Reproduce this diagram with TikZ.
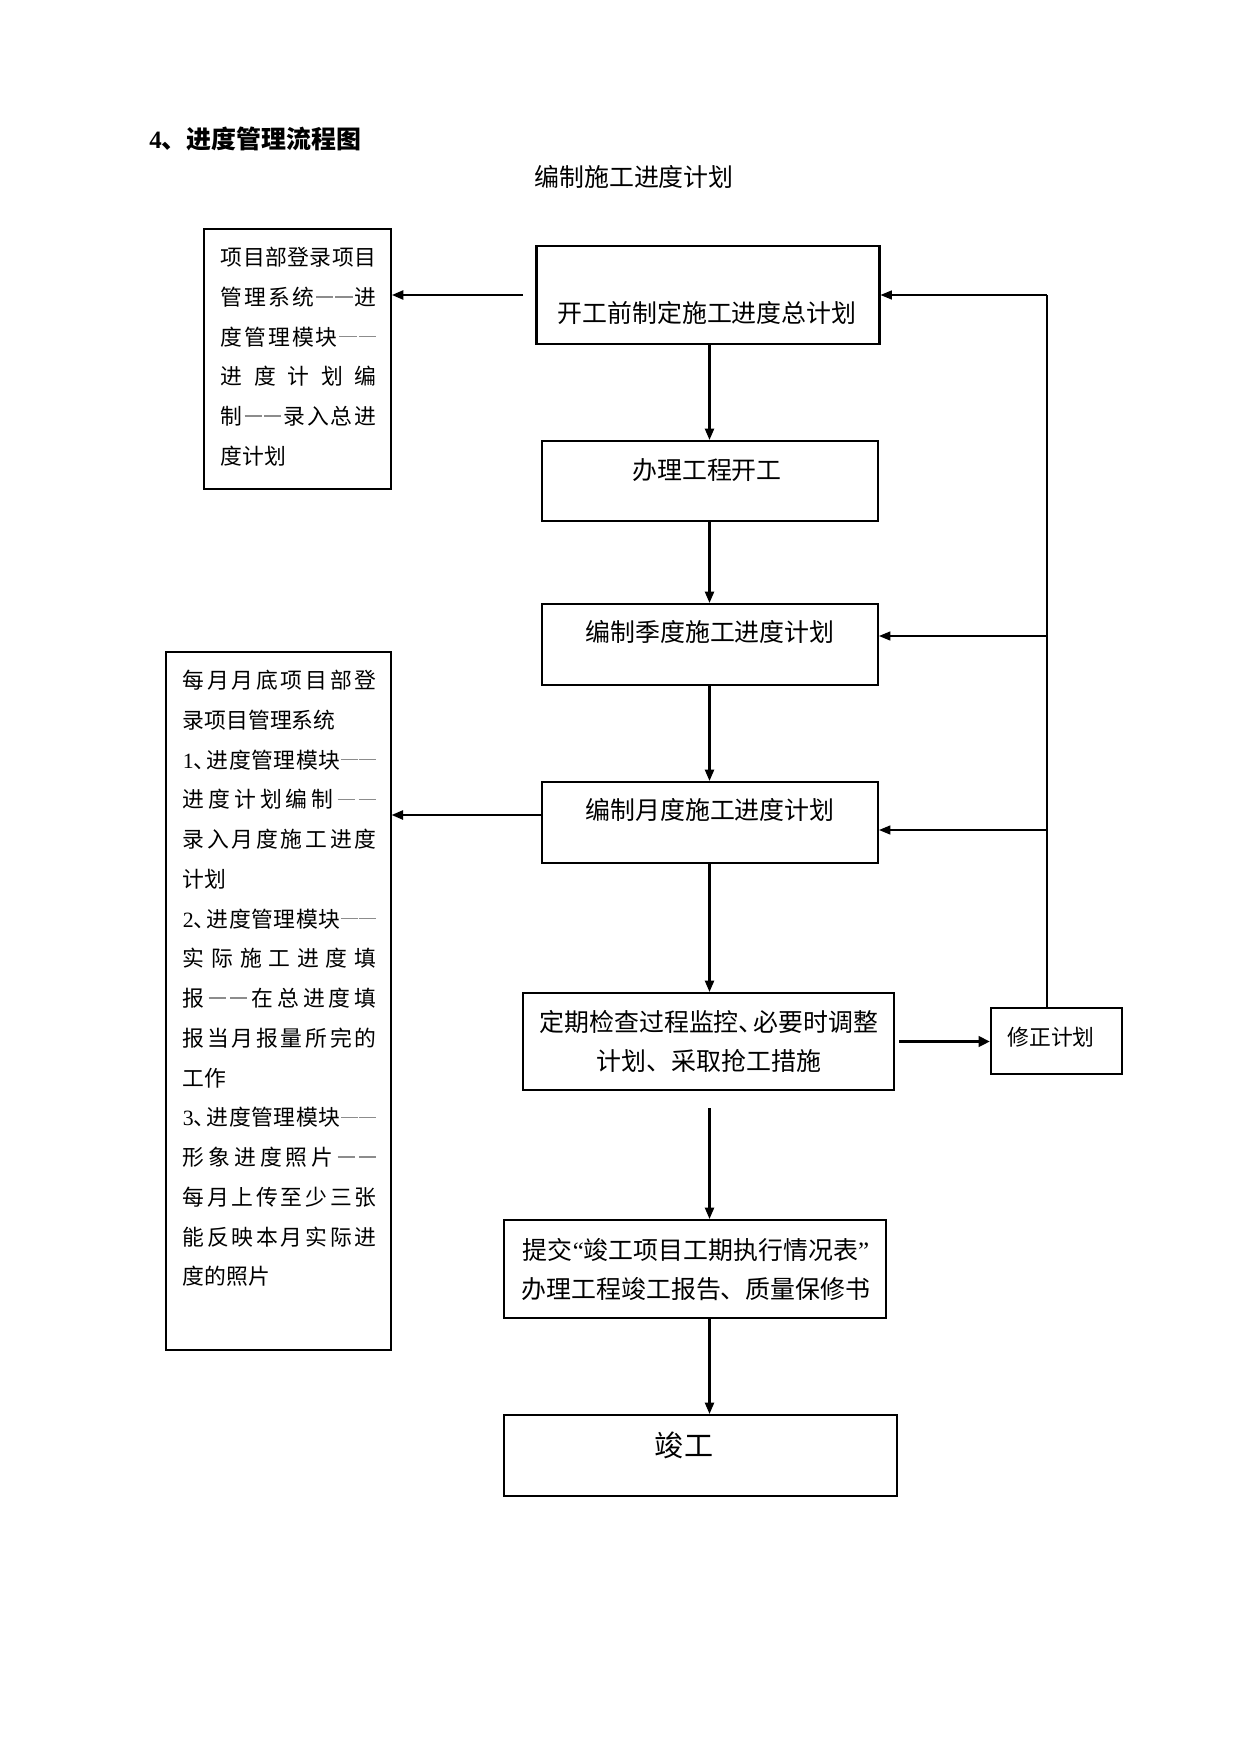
\documentclass[tikz,border=0pt]{standalone}
\usepackage{fontspec}
\setmainfont{Noto Sans CJK SC}
\newfontfamily\lat{Liberation Serif}
\usetikzlibrary{arrows.meta}
\newlength\pxl
\setlength\pxl{0.48147pt}
\newlength\wA
\setlength\wA{155.5\pxl}
\newlength\wB
\setlength\wB{193.6\pxl}
\let\hf\hfill
\newcommand\gd{\textcolor{black!45}{\rule[0.36em]{0.8em}{0.07em}}}
\newcommand\dn{\makebox[0.6em][l]{、}}
\begin{document}
\begin{tikzpicture}[x=0.169218mm, y=-0.169218mm,
  mbox/.style={draw, line width=1pt, inner sep=0pt},
  tbox/.style={draw, line width=0.9pt, inner sep=0pt},
  ttxt/.style={inner sep=0pt, font=\fontsize{12pt}{18.78pt}\selectfont, align=center},
  stxt/.style={inner sep=0pt, font=\fontsize{10.5pt}{19.14pt}\selectfont},
  arr/.style={line width=1pt, -{Triangle[length=5.5pt,width=4.4pt]}},
  fbl/.style={line width=0.6pt},
  fbarr/.style={line width=0.6pt, -{Triangle[length=5.5pt,width=4.4pt]}},
  tharr/.style={line width=1.6pt, -{Triangle[length=5.5pt,width=5pt]}}]
\useasboundingbox[fill=white] (0,0) rectangle (1241,1755);

% titles
\node[anchor=west, inner sep=0pt, font=\bfseries\fontsize{12pt}{14pt}\selectfont] (title) at (149,139) {{\lat\bfseries 4}、进度管理流程图};
\node[inner sep=0pt, font=\fontsize{12pt}{14pt}\selectfont] (sub) at (634,177) {编制施工进度计划};

% main boxes
\node[mbox, minimum width=343\pxl, minimum height=98\pxl] (b1) at (708,295) {};
\node[ttxt] (b1t) at (707,313) {开工前制定施工进度总计划};
\node[mbox, minimum width=336\pxl, minimum height=80\pxl] (b2) at (710,481) {};
\node[ttxt] (b2t) at (707,470) {办理工程开工};
\node[mbox, minimum width=336\pxl, minimum height=81\pxl] (b3) at (710,644.5) {};
\node[ttxt] (b3t) at (710,632) {编制季度施工进度计划};
\node[mbox, minimum width=336\pxl, minimum height=81\pxl] (b4) at (710,822.5) {};
\node[ttxt] (b4t) at (710,810) {编制月度施工进度计划};
\node[mbox, minimum width=371\pxl, minimum height=97\pxl] (b5) at (708.5,1041.5) {};
\node[ttxt] (b5t) at (709,1041.5) {定期检查过程监控\dn 必要时调整\\计划、采取抢工措施};
\node[mbox, minimum width=131\pxl, minimum height=66\pxl] (fix) at (1056.5,1041) {};
\node[stxt] (fixt) at (1051,1037) {修正计划};
\node[mbox, minimum width=382\pxl, minimum height=98\pxl] (b6) at (695,1269) {};
\node[ttxt] (b6t) at (696,1269.5) {提交{\lat “}竣工项目工期执行情况表{\lat ”}\\办理工程竣工报告、质量保修书};
\node[mbox, minimum width=393\pxl, minimum height=81\pxl] (b7) at (700.5,1455.5) {};
\node[inner sep=0pt, font=\fontsize{14pt}{16pt}\selectfont] (b7t) at (684,1445) {竣工};

% left boxes
\node[tbox, minimum width=187\pxl, minimum height=260\pxl] (A) at (297.5,359) {};
\node[stxt, anchor=base west] (At) at (220.4,265.7) {\parbox[t]{\wA}{\fontsize{10.5pt}{19.14pt}\selectfont
\makebox[\wA]{项\hf 目\hf 部\hf 登\hf 录\hf 项\hf 目}\\
\makebox[\wA]{管\hf 理\hf 系\hf 统\hf \gd\hf \gd\hf 进}\\
\makebox[\wA]{度\hf 管\hf 理\hf 模\hf 块\hf \gd\hf \gd}\\
\makebox[\wA]{进\hf 度\hf 计\hf 划\hf 编}\\
\makebox[\wA]{制\hf \gd\hf \gd\hf 录\hf 入\hf 总\hf 进}\\
度计划}};

\node[draw, line width=0.6pt, inner sep=0pt, minimum width=225\pxl, minimum height=698\pxl] (B) at (278.5,1001) {};
\node[stxt, anchor=base west] (Bt) at (182.4,688.7) {\parbox[t]{\wB}{\fontsize{10.5pt}{19.14pt}\selectfont
\makebox[\wB]{每\hf 月\hf 月\hf 底\hf 项\hf 目\hf 部\hf 登}\\
录项目管理系统\\
\makebox[\wB]{{\lat 1}\dn 进\hf 度\hf 管\hf 理\hf 模\hf 块\hf \gd\hf \gd}\\
\makebox[\wB]{进\hf 度\hf 计\hf 划\hf 编\hf 制\hf \gd\hf \gd}\\
\makebox[\wB]{录\hf 入\hf 月\hf 度\hf 施\hf 工\hf 进\hf 度}\\
计划\\
\makebox[\wB]{{\lat 2}\dn 进\hf 度\hf 管\hf 理\hf 模\hf 块\hf \gd\hf \gd}\\
\makebox[\wB]{实\hf 际\hf 施\hf 工\hf 进\hf 度\hf 填}\\
\makebox[\wB]{报\hf \gd\hf \gd\hf 在\hf 总\hf 进\hf 度\hf 填}\\
\makebox[\wB]{报\hf 当\hf 月\hf 报\hf 量\hf 所\hf 完\hf 的}\\
工作\\
\makebox[\wB]{{\lat 3}\dn 进\hf 度\hf 管\hf 理\hf 模\hf 块\hf \gd\hf \gd}\\
\makebox[\wB]{形\hf 象\hf 进\hf 度\hf 照\hf 片\hf \gd\hf \gd}\\
\makebox[\wB]{每\hf 月\hf 上\hf 传\hf 至\hf 少\hf 三\hf 张}\\
\makebox[\wB]{能\hf 反\hf 映\hf 本\hf 月\hf 实\hf 际\hf 进}\\
度的照片}};

% coordinates
\coordinate (c1) at (523,295);
\coordinate (c4) at (542,815);
\coordinate (c5) at (709.5,1108);
\coordinate (r1) at (1047,295);
\coordinate (r3) at (1047,636);
\coordinate (r4) at (1047,830);
\coordinate (vx) at (709.5,0);

% connectors
\draw[arr] (c1) -- (c1 -| A.east);
\draw[arr] (b1.south -| vx) -- (b2.north -| vx);
\draw[arr] (b2.south -| vx) -- (b3.north -| vx);
\draw[arr] (b3.south -| vx) -- (b4.north -| vx);
\draw[arr] (c4) -- (c4 -| B.east);
\draw[arr] (b4.south -| vx) -- (b5.north -| vx);
\draw[arr] (c5) -- (b6.north -| vx);
\draw[arr] (b6.south -| vx) -- (b7.north -| vx);
\draw[tharr] ([xshift=4\pxl]b5.east) -- (b5.east -| fix.west);
\draw[fbl] (fix.north -| r1) -- (r1);
\draw[fbarr] (r1) -- (r1 -| b1.east);
\draw[fbarr] (r3) -- (r3 -| b3.east);
\draw[fbarr] (r4) -- (r4 -| b4.east);
\end{tikzpicture}
\end{document}
